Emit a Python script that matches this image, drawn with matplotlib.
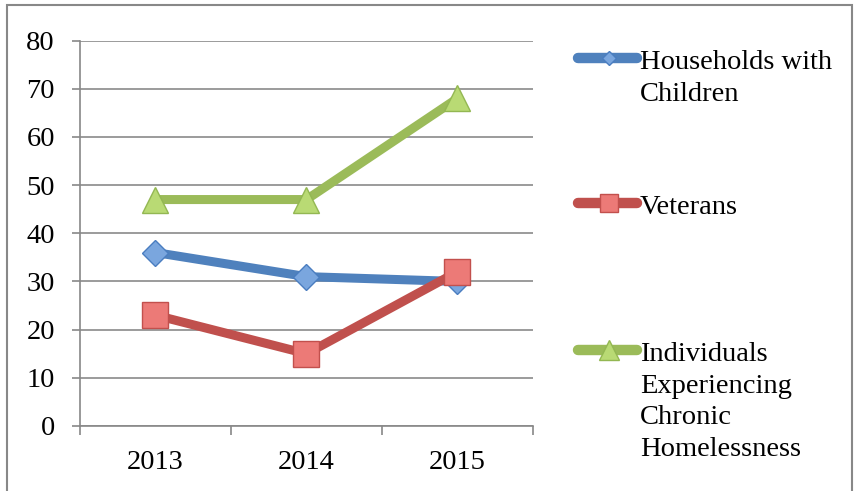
import matplotlib.pyplot as plt
from matplotlib.lines import Line2D
from matplotlib.patches import Rectangle

years = ['2013', '2014', '2015']
households = [36, 31, 30]
veterans = [23, 15, 32]
chronic = [47, 47, 68]
labels = ['Households with\nChildren', 'Veterans',
          'Individuals\nExperiencing\nChronic\nHomelessness']

plt.rcParams['font.family'] = ['Liberation Serif', 'DejaVu Serif']

line_colors = ['#4F81BD', '#C0504D', '#9BBB59']
face_colors = ['#7AA6DE', '#EC7A77', '#B9DA74']
edge_colors = ['#4A7DC0', '#C2504D', '#93B752']
markers = ['D', 's', '^']
msizes = [13, 18.5, 19]
fs = 20.5

fig = plt.figure(figsize=(8.58, 4.91), dpi=100)
ax = fig.add_axes([0.0932, 0.1324, 0.528, 0.785])

x = range(len(years))
for vals, lc, fc, ec, m, ms in zip([households, veterans, chronic], line_colors,
                                   face_colors, edge_colors, markers, msizes):
    ax.plot(x, vals, color=lc, lw=6.5, marker=m, markersize=ms,
            markerfacecolor=fc, markeredgecolor=ec, markeredgewidth=1)

ax.set_xlim(-0.5, 2.5)
ax.set_ylim(0, 80)
ax.set_yticks(range(0, 81, 10))
ax.set_xticks([-0.5, 0.5, 1.5, 2.5])
ax.set_xticklabels([])
ax.set_xticks(list(x), minor=True)
ax.set_xticklabels(years, minor=True)
ax.tick_params(axis='x', which='major', length=6.5, width=1.2, color='#888888')
ax.tick_params(axis='x', which='minor', length=0, pad=17, labelsize=fs)
ax.tick_params(axis='y', length=6, width=1.2, color='#888888', pad=12, labelsize=fs)
ax.yaxis.grid(True, color='#8a8a8a', lw=1.2)
ax.set_axisbelow(True)
for s in ['top', 'right']:
    ax.spines[s].set_visible(False)
for s in ['left', 'bottom']:
    ax.spines[s].set_color('#888888')
    ax.spines[s].set_linewidth(1.2)

# legend drawn by hand to match the tall layout
leg_y = [433, 288, 141]
leg_ms = [7, 13, 14]
for lab, ly, lc, fc, ec, m, ms in zip(labels, leg_y, line_colors, face_colors,
                                      edge_colors, markers, leg_ms):
    yf = ly / 491
    fig.add_artist(Line2D([578 / 858, 637 / 858], [yf, yf], transform=fig.transFigure,
                          color=lc, lw=7.5, solid_capstyle='round'))
    fig.add_artist(Line2D([609 / 858], [yf], transform=fig.transFigure,
                          marker=m, markersize=ms, markerfacecolor=fc,
                          markeredgecolor=ec, markeredgewidth=1, lw=0))
    fig.text(640 / 858, (ly + 8) / 491, lab, ha='left', va='top',
             fontsize=fs, linespacing=1.35)

fig.add_artist(Rectangle((7 / 858, -0.05), 845 / 858, (486 / 491) + 0.05,
                         transform=fig.transFigure, fill=False,
                         edgecolor='#888888', lw=1.5))

fig.savefig('out.png', dpi=100)
